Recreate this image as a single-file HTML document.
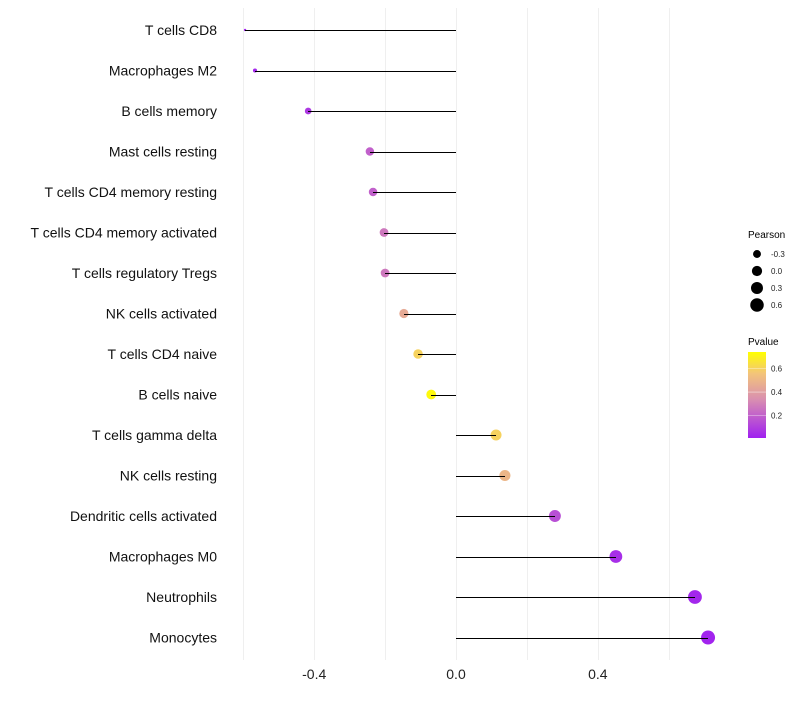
<!DOCTYPE html>
<html><head><meta charset="utf-8"><style>
body{margin:0;background:#fff;font-family:"Liberation Sans",sans-serif}
svg text{font-family:"Liberation Sans",sans-serif}
</style></head><body>
<svg id="chart" width="800" height="700">
<g id="grid"></g>
<g id="marks"></g>
<g id="axes"></g>
<g id="legend">
<text x="748" y="238" font-size="10">Pearson</text>
<defs><linearGradient id="pg" x1="0" y1="1" x2="0" y2="0">
<stop offset="0" stop-color="#a020f0"/><stop offset="0.45" stop-color="#d98fb0"/><stop offset="0.75" stop-color="#f3c47a"/><stop offset="1" stop-color="#ffff00"/></linearGradient></defs>
<text x="748" y="345" font-size="10">Pvalue</text>
<rect x="748" y="352" width="18" height="86" fill="url(#pg)"/>
</g>
</svg>
<script>
const categories=["T cells CD8","Macrophages M2","B cells memory","Mast cells resting","T cells CD4 memory resting","T cells CD4 memory activated","T cells regulatory  Tregs ","NK cells activated","T cells CD4 naive","B cells naive","T cells gamma delta","NK cells resting","Dendritic cells activated","Macrophages M0","Neutrophils","Monocytes"];
const pearson=[-0.595,-0.567,-0.417,-0.243,-0.234,-0.203,-0.2,-0.147,-0.107,-0.07,0.113,0.138,0.279,0.451,0.674,0.711];
const pvalue=[0.02,0.03,0.08,0.2,0.2,0.27,0.27,0.45,0.6,0.72,0.6,0.5,0.15,0.05,0.03,0.02];
const xTicks=[-0.4,0.0,0.4];
const sizeLegend=[-0.3,0.0,0.3,0.6];
const colorTicks=[0.2,0.4,0.6];
const NS="http://www.w3.org/2000/svg";
const x=v=>456+v*354.5;
const y=i=>30+i*40.5;
const pmin=Math.min(...pearson),pmax=Math.max(...pearson);
const rad=v=>1.2+5.8*Math.sqrt(Math.max(0,(v-pmin)/(pmax-pmin)));
function lerp(a,b,t){return a.map((c,k)=>Math.round(c+(b[k]-c)*t));}
const stops=[[0,[160,32,240]],[0.45,[217,143,176]],[0.75,[243,196,122]],[1,[255,255,0]]];
function col(p){let t=Math.min(1,Math.max(0,(p-0.01)/(0.74-0.01)));for(let k=1;k<stops.length;k++){if(t<=stops[k][0]){const a=stops[k-1],b=stops[k];const c=lerp(a[1],b[1],(t-a[0])/(b[0]-a[0]));return `rgb(${c})`;}}return "rgb(255,255,0)";}
function mk(tag,attrs,parent,txt){const e=document.createElementNS(NS,tag);for(const k in attrs)e.setAttribute(k,attrs[k]);if(txt!==undefined)e.textContent=txt;parent.appendChild(e);return e;}
const grid=document.getElementById('grid'),marks=document.getElementById('marks'),axes=document.getElementById('axes'),leg=document.getElementById('legend');
for(let v=-0.6;v<=0.61;v+=0.2){const gx=Math.round(x(v))+0.5;const g=mk('line',{x1:gx,x2:gx,y1:8,y2:660,stroke:'#efefef','stroke-width':1,'shape-rendering':'crispEdges'},grid);

}
xTicks.forEach(v=>{const t=mk('text',{x:x(v),y:679,'font-size':14,'text-anchor':'middle',fill:'#222'},axes,v.toFixed(1));

});
categories.forEach((c,i)=>{const t=mk('text',{x:217,y:y(i)+5,'font-size':14,'text-anchor':'end',fill:'#111'},axes,c);


const d=mk('circle',{cx:x(pearson[i]),cy:y(i),r:rad(pearson[i]),fill:col(pvalue[i])},marks);


const ly=Math.round(y(i))+0.5;
const l=mk('line',{x1:x(0),x2:x(pearson[i]),y1:ly,y2:ly,stroke:'#000','stroke-width':1,'shape-rendering':'crispEdges'},marks);

});
sizeLegend.forEach((v,i)=>{const cy=254+i*17;const c=mk('circle',{cx:757,cy:cy,r:rad(v),fill:'#000'},leg);


const t=mk('text',{x:771,y:cy+3,'font-size':8,fill:'#222'},leg,v.toFixed(1));

});
colorTicks.forEach(v=>{const cy=438-(v-0.01)/(0.74-0.01)*86;
const tl=mk('line',{x1:748,x2:766,y1:cy,y2:cy,stroke:'#fff','stroke-width':0.6,opacity:0.7},leg);


const t=mk('text',{x:771,y:cy+3,'font-size':8,fill:'#222'},leg,v.toFixed(1));

});
</script>
</body></html>
